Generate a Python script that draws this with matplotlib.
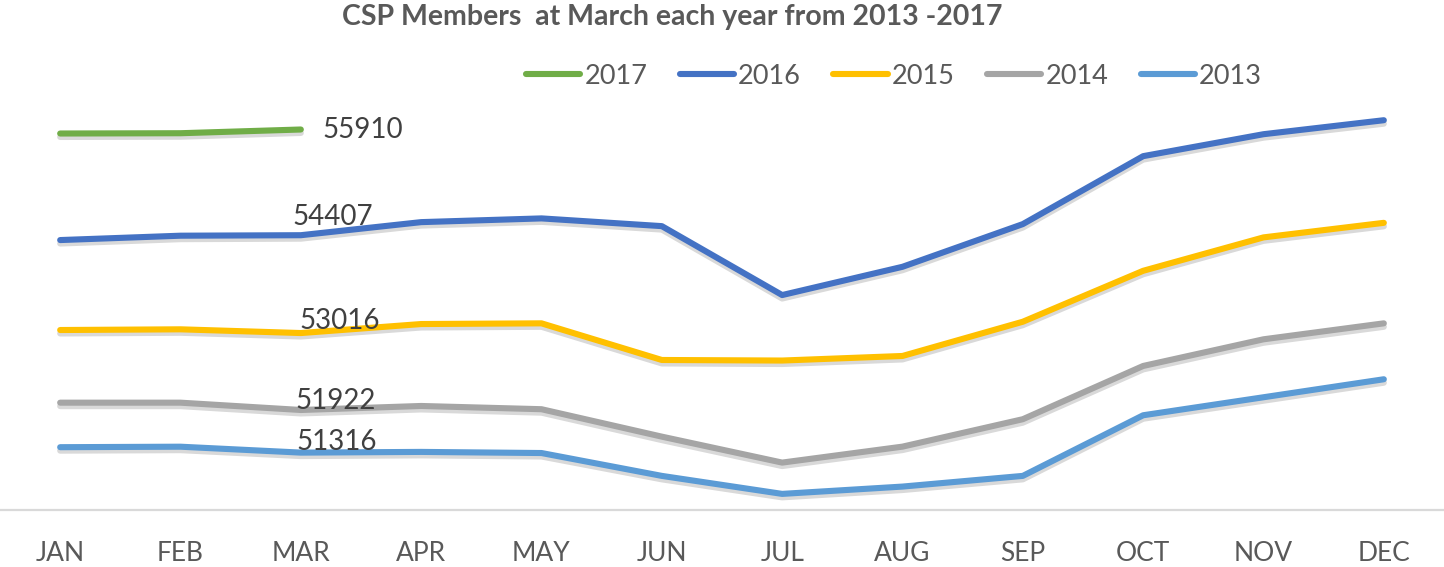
import matplotlib
matplotlib.use("Agg")
import matplotlib.pyplot as plt
import matplotlib.patheffects as pe

months = ["JAN", "FEB", "MAR", "APR", "MAY", "JUN", "JUL", "AUG", "SEP", "OCT", "NOV", "DEC"]
y2017 = [55853, 55857, 55910]
y2016 = [54338, 54400, 54407, 54593, 54646, 54536, 53556, 53958, 54565, 55531, 55843, 56042]
y2015 = [53059, 53069, 53016, 53144, 53154, 52633, 52625, 52690, 53177, 53901, 54376, 54583]
y2014 = [52026, 52026, 51922, 51979, 51933, 51543, 51174, 51401, 51791, 52548, 52927, 53154]
y2013 = [51393, 51400, 51316, 51326, 51310, 50985, 50729, 50833, 50985, 51847, 52103, 52359]

series = [("2017", y2017, "#70AD47"), ("2016", y2016, "#4472C4"), ("2015", y2015, "#FFC000"),
          ("2014", y2014, "#A5A5A5"), ("2013", y2013, "#5B9BD5")]

plt.rcParams['font.family'] = ['Lato', 'DejaVu Sans']

fig = plt.figure(figsize=(14.44, 5.67), dpi=100)
ax = fig.add_axes([0, 1 - 510 / 567, 1, (510 - 88) / 567])

x = list(range(len(months)))
shadow = [pe.SimpleLineShadow(offset=(0, -2.5), shadow_color='black', alpha=0.15), pe.Normal()]
lines = []
for name, vals, col in series:
    ln, = ax.plot(x[:len(vals)], vals, color=col, lw=4.4, solid_capstyle='round',
                  solid_joinstyle='round', path_effects=shadow, label=name)
    lines.append(ln)

# data labels at March
lbl_style = dict(fontsize=20, color='#404040', textcoords='offset pixels')
ax.annotate(f"{y2017[2]}", (2, y2017[2]), xytext=(22, -1), ha='left', va='center', **lbl_style)
ax.annotate(f"{y2016[2]}", (2, y2016[2]), xytext=(32, 18), ha='center', va='center', **lbl_style)
ax.annotate(f"{y2015[2]}", (2, y2015[2]), xytext=(39, 12), ha='center', va='center', **lbl_style)
ax.annotate(f"{y2014[2]}", (2, y2014[2]), xytext=(35, 9), ha='center', va='center', **lbl_style)
ax.annotate(f"{y2013[2]}", (2, y2013[2]), xytext=(36, 11), ha='center', va='center', **lbl_style)

ax.set_xlim(-0.5, 11.5)
ax.set_ylim(50500, 56500)
ax.set_xticks(x)
ax.set_xticklabels(months, fontsize=19, color='#595959')
ax.tick_params(axis='x', length=0, pad=22.5)
ax.set_yticks([])
for s in ['left', 'right', 'top']:
    ax.spines[s].set_visible(False)
ax.spines['bottom'].set_color('#D9D9D9')
ax.spines['bottom'].set_linewidth(1.6)
ax.patch.set_alpha(0)

fig.text(672.5 / 1444, 1 - 17 / 567, "CSP Members  at March each year from 2013 -2017",
         ha='center', va='center', fontsize=20.5, fontweight='bold', color='#595959')

leg = fig.legend(handles=lines, loc='center', bbox_to_anchor=(894 / 1444, 1 - 76 / 567),
                 ncol=5, frameon=False, fontsize=19.5, handlelength=2.0, handletextpad=0.15,
                 columnspacing=1.2, labelcolor='#595959')
for h in leg.get_lines():
    h.set_linewidth(4.4)
    h.set_path_effects([])

fig.savefig("out.png", dpi=100)
